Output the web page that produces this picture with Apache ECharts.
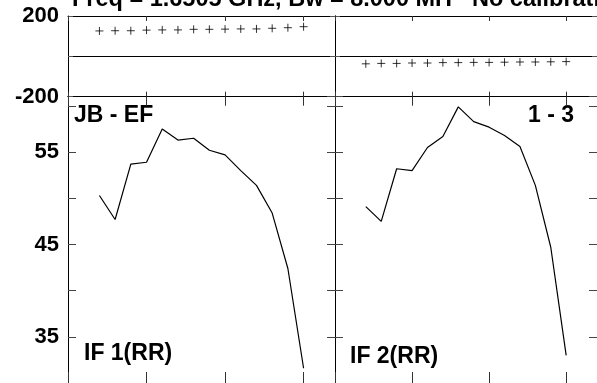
<!DOCTYPE html>
<html>
<head>
<meta charset="utf-8">
<script src="https://cdn.jsdelivr.net/npm/echarts@6/dist/echarts.min.js"></script>
<style>
  html, body { margin: 0; padding: 0; background: #fff; }
  #main { width: 597px; height: 383px; }
</style>
</head>
<body>
<div id="main"></div>
<script>
// channels (x), same for both IFs
const channels = [2, 3, 4, 5, 6, 7, 8, 9, 10, 11, 12, 13, 14, 15]

// phase (deg), top panels
const phaseIF1 = [126, 127, 127, 130, 131, 131, 134, 134, 135, 136, 136, 139, 142, 147]
const phaseIF2 = [-37, -35, -35, -33, -33, -31, -31, -30, -30, -29, -28, -28, -27, -26]

// amplitude, bottom panels
const ampIF1 = [50.3, 47.7, 53.7, 53.9, 57.5, 56.3, 56.5, 55.2, 54.7, 53.0, 51.4, 48.4, 42.4, 31.6]
const ampIF2 = [49.1, 47.5, 53.2, 53.0, 55.5, 56.7, 59.9, 58.3, 57.7, 56.8, 55.6, 51.4, 44.7, 33.0]

// tick labels
const phaseLabels = [-200, 200]
const ampLabels = [35, 45, 55]

const FONT = 'Liberation Sans, Arial, sans-serif'

const pairs = (ys) => channels.map((c, i) => [c, ys[i]])

const chart = echarts.init(document.getElementById('main'), null, { renderer: 'canvas' })

// x axis helper
const xAx = (grid, pos, len) => ({
  type: 'value', gridIndex: grid, position: pos, min: 0, max: 17, interval: 5,
  axisLine: { show: true, onZero: false, lineStyle: { color: '#000', width: 1 } },
  axisTick: { show: true, inside: true, length: len, lineStyle: { color: '#333' } },
  axisLabel: { show: false },
  splitLine: { show: false }
})

// y axis helper
const yAx = (grid, pos, opt) => Object.assign({
  type: 'value', gridIndex: grid, position: pos,
  axisLine: { show: true, onZero: false, lineStyle: { color: '#000', width: 1 } },
  axisLabel: { show: false },
  splitLine: { show: false }
}, opt)

const phaseY = (grid, pos, labels) => yAx(grid, pos, {
  min: -200, max: 200, interval: 200,
  axisTick: { show: true, inside: true, length: 5, lineStyle: { color: '#555' } },
  axisLabel: {
    show: labels, margin: 9, padding: [5, 0, 0, 0], color: '#000',
    fontSize: 22, fontWeight: 'bold', fontFamily: FONT,
    formatter: (v) => phaseLabels.includes(v) ? String(v) : ''
  },
  splitLine: { show: pos === 'left', lineStyle: { color: '#000', width: 1 } }
})

const ampY = (grid, pos, labels) => yAx(grid, pos, {
  min: 30, max: 61, interval: 5,
  axisTick: { show: true, inside: true, length: 8, lineStyle: { color: '#444' } },
  axisLabel: {
    show: labels, margin: 9, color: '#000', fontSize: 22, fontWeight: 'bold', fontFamily: FONT,
    showMinLabel: false, showMaxLabel: false,
    formatter: (v) => ampLabels.includes(v) ? String(v) : ''
  }
})

const plus = 'path://M0,4L8,4M4,0L4,8'

const txt = (x, y, text, align, size) => ({
  type: 'text', x: x, y: y,
  style: {
    text: text, fill: '#000', font: 'bold ' + size + 'px ' + FONT,
    textAlign: align, textVerticalAlign: 'middle'
  }
})

chart.setOption({
  animation: false,
  backgroundColor: '#fff',
  grid: [
    { left: 68, top: 16, width: 267, height: 80.7 },
    { left: 335, top: 16, width: 267, height: 80.7 },
    { left: 68, top: 96.7, width: 267, height: 292 },
    { left: 335, top: 96.7, width: 267, height: 292 }
  ],
  xAxis: [
    xAx(0, 'bottom', 5), xAx(0, 'top', 5),
    xAx(1, 'bottom', 5), xAx(1, 'top', 5),
    xAx(2, 'bottom', 11), xAx(2, 'top', 9),
    xAx(3, 'bottom', 11), xAx(3, 'top', 9)
  ],
  yAxis: [
    phaseY(0, 'left', true), phaseY(0, 'right', false),
    phaseY(1, 'left', false), phaseY(1, 'right', false),
    ampY(2, 'left', true), ampY(2, 'right', false),
    ampY(3, 'left', false), ampY(3, 'right', false)
  ],
  series: [
    {
      type: 'scatter', xAxisIndex: 0, yAxisIndex: 0, data: pairs(phaseIF1),
      symbol: plus, symbolSize: 8,
      itemStyle: { color: 'rgba(0,0,0,0)', borderColor: '#000', borderWidth: 1 }
    },
    {
      type: 'scatter', xAxisIndex: 2, yAxisIndex: 2, data: pairs(phaseIF2),
      symbol: plus, symbolSize: 8,
      itemStyle: { color: 'rgba(0,0,0,0)', borderColor: '#000', borderWidth: 1 }
    },
    {
      type: 'line', xAxisIndex: 4, yAxisIndex: 4, data: pairs(ampIF1),
      showSymbol: false, lineStyle: { color: '#000', width: 1.2 }
    },
    {
      type: 'line', xAxisIndex: 6, yAxisIndex: 6, data: pairs(ampIF2),
      showSymbol: false, lineStyle: { color: '#000', width: 1.2 }
    }
  ],
  graphic: [
    txt(72, 0, 'Freq = 1.6505 GHz, Bw = 8.000 MH', 'left', 23.5),
    txt(472, 0, 'No calibration', 'left', 23.5),
    txt(74, 116, 'JB - EF', 'left', 23),
    txt(574, 116, '1 - 3', 'right', 23),
    txt(84, 354, 'IF 1(RR)', 'left', 23),
    txt(350, 357, 'IF 2(RR)', 'left', 23)
  ]
})
</script>
</body>
</html>
